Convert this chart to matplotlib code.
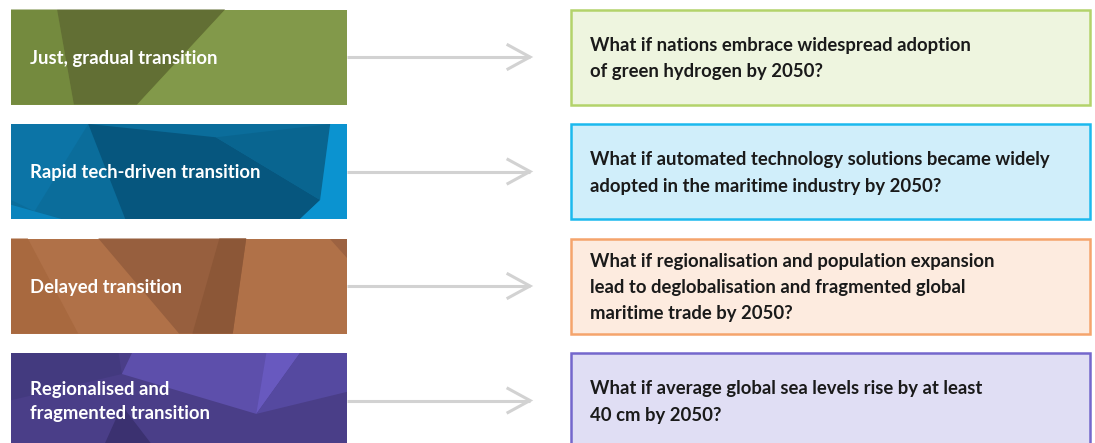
import matplotlib
matplotlib.use("Agg")
import matplotlib.pyplot as plt
from matplotlib.patches import Rectangle, Polygon

plt.rcParams['font.family'] = ['Lato', 'DejaVu Sans']

# textos del diagrama
transiciones = [
    "Just, gradual transition",
    "Rapid tech-driven transition",
    "Delayed transition",
    "Regionalised and\nfragmented transition",
]
preguntas = [
    "What if nations embrace widespread adoption\nof green hydrogen by 2050?",
    "What if automated technology solutions became widely\nadopted in the maritime industry by 2050?",
    "What if regionalisation and population expansion\nlead to deglobalisation and fragmented global\nmaritime trade by 2050?",
    "What if average global sea levels rise by at least\n40 cm by 2050?",
]
color_base = ["#7d9343", "#0b6d9b", "#b07148", "#4a3e88"]
color_borde = ["#b3d36a", "#1cb9ee", "#f5a46c", "#7467cc"]
color_relleno = ["#eef5df", "#d0eefa", "#fdebdf", "#e0def4"]

# facetas decorativas (fracciones del recuadro izquierdo)
facetas = [
    [("#748a3e", [(0, 0), (0.137, 0), (0.187, 1), (0, 1)]),
     ("#626f34", [(0.137, 0), (0.637, 0), (0.375, 1), (0.187, 1)]),
     ("#82994a", [(0.637, 0), (1, 0), (1, 1), (0.375, 1)])],
    [("#0c74a6", [(0, 0), (0.23, 0), (0.07, 0.92), (0, 0.8)]),
     ("#06567e", [(0.23, 0), (0.61, 0.14), (0.92, 0.8), (0.86, 1), (0.34, 1)]),
     ("#096590", [(0.61, 0.14), (0.95, 0), (0.92, 0.8)]),
     ("#0b93d0", [(0.95, 0), (1, 0), (1, 1), (0.86, 1), (0.92, 0.8)]),
     ("#0a84bd", [(0, 0.85), (0.07, 0.92), (0.15, 1), (0, 1)])],
    [("#975f3e", [(0.26, 0), (0.7, 0), (0.66, 1), (0.5, 1)]),
     ("#8c5737", [(0.62, 0), (0.7, 0), (0.66, 1), (0.54, 1)]),
     ("#a8693f", [(0, 0), (0.05, 0), (0.2, 1), (0, 1)]),
     ("#9c6241", [(0.95, 0), (1, 0), (1, 0.2)])],
    [("#433a7f", [(0, 0), (0.32, 0), (0.33, 0.2), (0, 0.45)]),
     ("#5d4fab", [(0.33, 0.2), (0.36, 0), (0.86, 0), (0.73, 0.58)]),
     ("#6859bf", [(0.76, 0), (0.86, 0), (0.73, 0.58)]),
     ("#5549a0", [(0.86, 0), (1, 0), (1, 0.37), (0.73, 0.58)]),
     ("#3b3170", [(0.33, 0.5), (0.45, 1), (0.26, 1)])],
]

W, H = 1095, 443
fig = plt.figure(figsize=(W / 100, H / 100), dpi=100)
ax = fig.add_axes([0, 0, 1, 1])
ax.set_xlim(0, W)
ax.set_ylim(H, 0)
ax.axis("off")

# geometría de filas
y0, alto, paso = 9.5, 95, 114.5
xl, wl = 11, 336
xr, wr = 571, 519

for i in range(len(transiciones)):
    top = y0 + i * paso
    h = alto if i < 3 else alto + 10
    yc = top + alto / 2

    # recuadro izquierdo con facetas
    ax.add_patch(Rectangle((xl, top), wl, h, fc=color_base[i], ec="none"))
    for col, pts in facetas[i]:
        ax.add_patch(Polygon([(xl + px * wl, top + py * h) for px, py in pts],
                             closed=True, fc=col, ec="none"))
    ax.text(xl + 19, yc + 1, transiciones[i], color="white", fontsize=13.3,
            fontweight="bold", va="center", ha="left", linespacing=1.55)

    # flecha
    ax.plot([xl + wl, 530], [yc, yc], color="#d2d2d2", lw=2.2, solid_capstyle="butt")
    ax.plot([508, 530, 508], [yc - 12, yc, yc + 12], color="#d2d2d2", lw=2.2,
            solid_joinstyle="miter")

    # recuadro derecho con la pregunta
    ax.add_patch(Rectangle((xr, top), wr, h, fc=color_relleno[i], ec=color_borde[i], lw=1.8))
    ax.text(xr + 19, yc + 1.5, preguntas[i], color="#1a1a1a", fontsize=13.3,
            fontweight="bold", va="center", ha="left", linespacing=1.65)

fig.savefig("out.png", dpi=100)
